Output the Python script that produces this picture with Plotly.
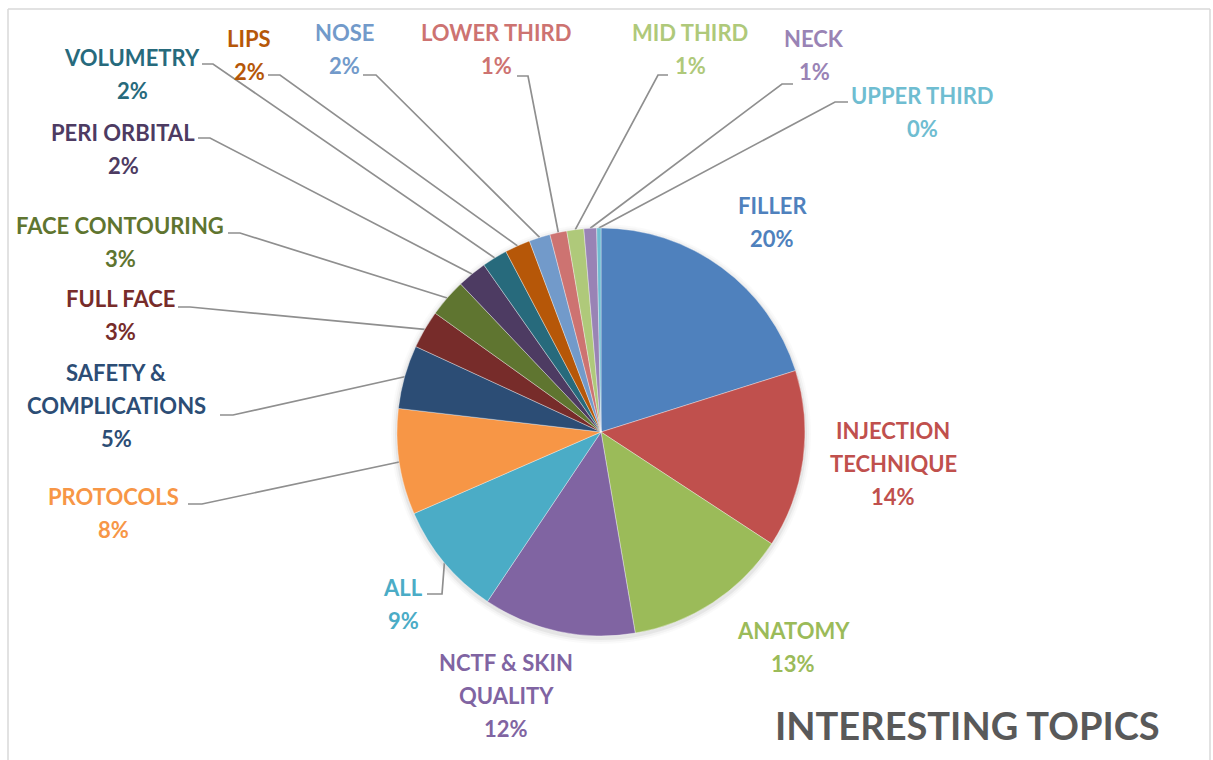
import math
import plotly.graph_objects as go

# ---------------- data ----------------
topics = ["FILLER", "INJECTION TECHNIQUE", "ANATOMY", "NCTF & SKIN QUALITY", "ALL",
          "PROTOCOLS", "SAFETY & COMPLICATIONS", "FULL FACE", "FACE CONTOURING",
          "PERI ORBITAL", "VOLUMETRY", "LIPS", "NOSE", "LOWER THIRD", "MID THIRD",
          "NECK", "UPPER THIRD"]
counts = [60, 42, 39, 36, 27, 25, 15, 9, 9, 7, 6, 6, 5, 4, 4, 3, 1]
label_lines = [["FILLER"], ["INJECTION", "TECHNIQUE"], ["ANATOMY"], ["NCTF & SKIN", "QUALITY"],
               ["ALL"], ["PROTOCOLS"], ["SAFETY &", "COMPLICATIONS"], ["FULL FACE"],
               ["FACE CONTOURING"], ["PERI ORBITAL"], ["VOLUMETRY"], ["LIPS"], ["NOSE"],
               ["LOWER THIRD"], ["MID THIRD"], ["NECK"], ["UPPER THIRD"]]
colors = ["#4F81BD", "#C0504D", "#9BBB59", "#8064A2", "#4BACC6", "#F79646",
          "#2C4D75", "#772C2A", "#5F7530", "#4D3B62", "#276A7C", "#B65708",
          "#729ACA", "#CD7371", "#AFC97A", "#9983B5", "#6FBDD1"]
title_text = "INTERESTING TOPICS"

# ---------------- layout constants ----------------
W, H = 1213, 760
PIE_CX, PIE_CY, PIE_R = 601, 432, 204
LINE_GAP = 33
# label block position: (center x, y of first line) in pixels
label_pos = [(772, 205), (893, 430), (793, 630), (506, 662), (403, 587), (113, 496),
             (116, 372), (120, 298), (120, 225), (123, 132), (132, 57), (249, 38),
             (344, 32), (496, 32), (690, 32), (814, 38), (922, 95)]
# leader start (x, y) and horizontal stub length (sign = direction); None = no leader
leaders = [None, None, None, None, (427, 594, 15), (188, 504, 14), (220, 415, 13),
           (178, 307, 12), (228, 233, 12), (198, 138, 12), (202, 64, 11), (268, 75, 12),
           (363, 75, 13), (517, 76, 11), (668, 75, -10), (793, 84, -11), (848, 102, -13)]

total = sum(counts)
pcts = [f"{round(100 * c / total)}%" for c in counts]

fig = go.Figure()

# subtle shadow/glow around the pie
shapes = []
for k, op in [(6, 0.02), (4, 0.03), (2, 0.05)]:
    shapes.append(dict(type="circle", xref="x", yref="y", layer="below",
                       x0=PIE_CX - PIE_R - k, x1=PIE_CX + PIE_R + k,
                       y0=PIE_CY - PIE_R - k + 2, y1=PIE_CY + PIE_R + k + 2,
                       fillcolor=f"rgba(0,0,0,{op})", line=dict(width=0)))

fig.add_trace(go.Pie(
    labels=topics, values=counts, sort=False, direction="clockwise", rotation=0,
    marker=dict(colors=colors, line=dict(color="rgba(255,255,255,0.6)", width=0.6)),
    textinfo="none", hoverinfo="label+percent", showlegend=False,
    domain=dict(x=[(PIE_CX - PIE_R) / W, (PIE_CX + PIE_R) / W],
                y=[(H - PIE_CY - PIE_R) / H, (H - PIE_CY + PIE_R) / H]),
))

# leader lines: from label stub to slice mid-angle on the rim
lx, ly = [], []
cum = 0
for i, c in enumerate(counts):
    mid = (cum + c / 2) / total
    cum += c
    if leaders[i] is None:
        continue
    sx, sy, stub = leaders[i]
    ang = 2 * math.pi * mid
    ex = PIE_CX + PIE_R * math.sin(ang)
    ey = PIE_CY - PIE_R * math.cos(ang)
    lx += [sx, sx + stub, ex, None]
    ly += [sy, sy, ey, None]
fig.add_trace(go.Scatter(x=lx, y=ly, mode="lines", line=dict(color="#8f8f8f", width=1.7),
                         hoverinfo="skip", showlegend=False))

annotations = []
for i in range(len(topics)):
    cx, y0 = label_pos[i]
    lines = label_lines[i] + [pcts[i]]
    for j, t in enumerate(lines):
        annotations.append(dict(x=cx, y=y0 + j * LINE_GAP, xref="x", yref="y", text=t,
                                showarrow=False, xanchor="center", yanchor="middle",
                                font=dict(family="Lato", size=22, color=colors[i], weight="bold")))
annotations.append(dict(x=967, y=725, xref="x", yref="y", text=title_text, showarrow=False,
                        xanchor="center", yanchor="middle",
                        font=dict(family="Lato", size=38, color="#595959", weight="bold")))

# frame (light gray border, top/left/right)
for (x0, y0, x1, y1) in [(8, 9, 1210, 9), (8, 9, 8, 760), (1210, 9, 1210, 760)]:
    shapes.append(dict(type="line", xref="x", yref="y", x0=x0, y0=y0, x1=x1, y1=y1,
                       line=dict(color="#d9d9d9", width=1.5), layer="below"))

fig.update_layout(
    width=W, height=H, margin=dict(l=0, r=0, t=0, b=0),
    paper_bgcolor="white", plot_bgcolor="white",
    xaxis=dict(range=[0, W], visible=False, fixedrange=True, domain=[0, 1]),
    yaxis=dict(range=[H, 0], visible=False, fixedrange=True, domain=[0, 1]),
    annotations=annotations, shapes=shapes,
)
fig.write_html("out.html", config={"displayModeBar": False},
               post_script="document.body.style.margin='0';")
